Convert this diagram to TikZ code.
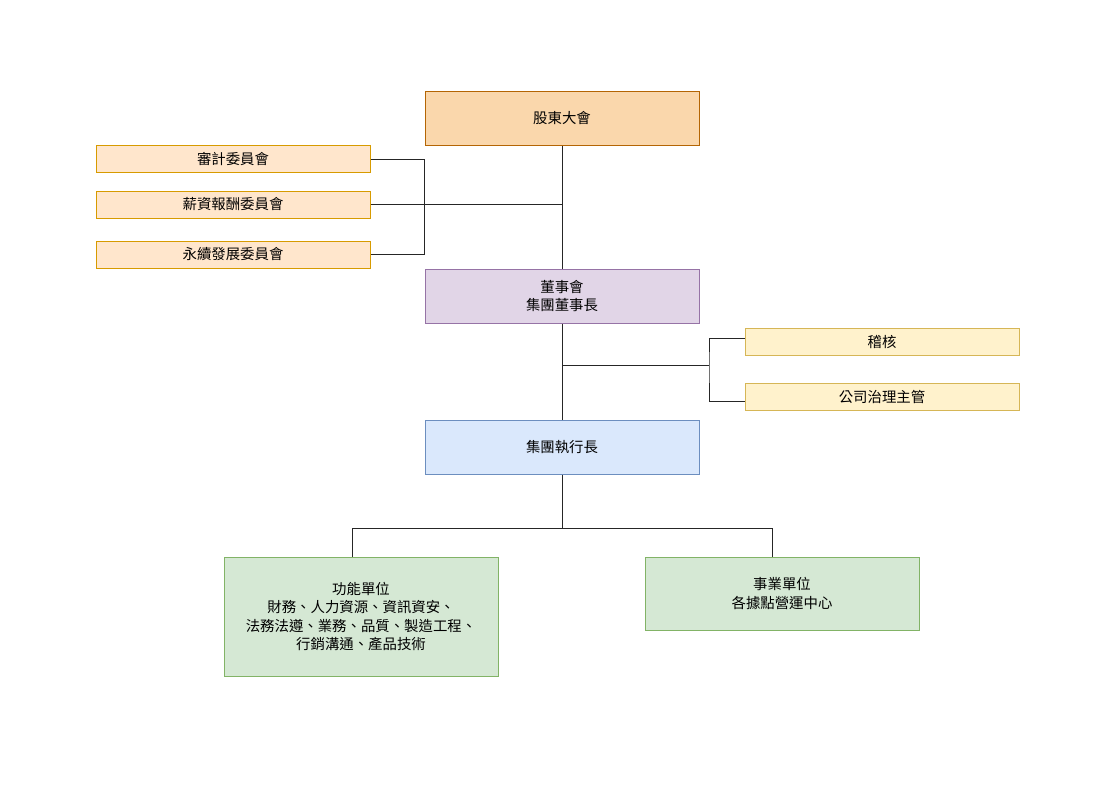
\documentclass[tikz,border=0pt]{standalone}
\usepackage{fontspec}
\setmainfont{Noto Sans CJK TC}
\usetikzlibrary{calc}

\definecolor{topFill}{HTML}{FAD7AC}
\definecolor{topDraw}{HTML}{B46504}
\definecolor{comFill}{HTML}{FFE6CC}
\definecolor{comDraw}{HTML}{D79B00}
\definecolor{boardFill}{HTML}{E1D5E7}
\definecolor{boardDraw}{HTML}{9673A6}
\definecolor{sideFill}{HTML}{FFF2CC}
\definecolor{sideDraw}{HTML}{D6B656}
\definecolor{ceoFill}{HTML}{DAE8FC}
\definecolor{ceoDraw}{HTML}{6C8EBF}
\definecolor{unitFill}{HTML}{D5E8D4}
\definecolor{unitDraw}{HTML}{82B366}

\tikzstyle{orgNode} = [rectangle, minimum width=205.5pt, minimum height=40.5pt, text centered, align=center, line width=0.75pt, inner sep=0pt, font=\fontsize{10.8pt}{13.8pt}\selectfont]
\tikzstyle{topNode} = [orgNode, fill=topFill, draw=topDraw]
\tikzstyle{boardNode} = [orgNode, fill=boardFill, draw=boardDraw]
\tikzstyle{ceoNode} = [orgNode, fill=ceoFill, draw=ceoDraw]
\tikzstyle{comNode} = [orgNode, minimum height=20.25pt, fill=comFill, draw=comDraw]
\tikzstyle{sideNode} = [orgNode, minimum height=20.25pt, fill=sideFill, draw=sideDraw]
\tikzstyle{unitNode} = [orgNode, fill=unitFill, draw=unitDraw]
\tikzstyle{link} = [line width=0.75pt, draw=black!85]

\begin{document}
\begin{tikzpicture}[x=0.75pt, y=-0.75pt, node distance=133.5pt]
    \useasboundingbox (0,0) rectangle (1111,790);

    \node (shareholders)[topNode] at (562,118) {股東大會};
    \node (board)[boardNode, below of=shareholders] {董事會\\集團董事長};
    \node (ceo)[ceoNode, below of=board, yshift=20.25pt] {集團執行長};

    \node (auditCom)[comNode] at (233,159) {審計委員會};
    \node (payCom)[comNode] at (233,204.5) {薪資報酬委員會};
    \node (esgCom)[comNode] at (233,254.5) {永續發展委員會};

    \node (internalAudit)[sideNode] at (882,341.5) {稽核};
    \node (governance)[sideNode] at (882,396.5) {公司治理主管};

    \node (funcUnit)[unitNode, minimum height=89.25pt] at (361,616.5) {功能單位\\財務、人力資源、資訊資安、\\法務法遵、業務、品質、製造工程、\\行銷溝通、產品技術};
    \node (bizUnit)[unitNode, minimum height=54.75pt] at (782,593.5) {事業單位\\各據點營運中心};

    \draw [link] (shareholders) -- (board);
    \draw [link] (board) -- (ceo) coordinate[pos=0.433] (a_board);

    \draw [link] (auditCom.east) -| (shareholders.west |- esgCom.east) -- (esgCom.east);
    \draw [link] (payCom.east) -- (payCom.east -| shareholders.south);

    \draw [link] (a_board) -- ++(147,0) coordinate (rbus);
    \draw [link] ([yshift=2.6pt]internalAudit.west) -| (rbus) |- ([yshift=-3.4pt]governance.west);

    \draw [link] (ceo.south) -- ++(0,54) coordinate (bbus);
    \draw [link] ([xshift=-6.75pt]funcUnit.north) |- (bbus) -| ([xshift=-7.5pt]bizUnit.north);
\end{tikzpicture}
\end{document}
